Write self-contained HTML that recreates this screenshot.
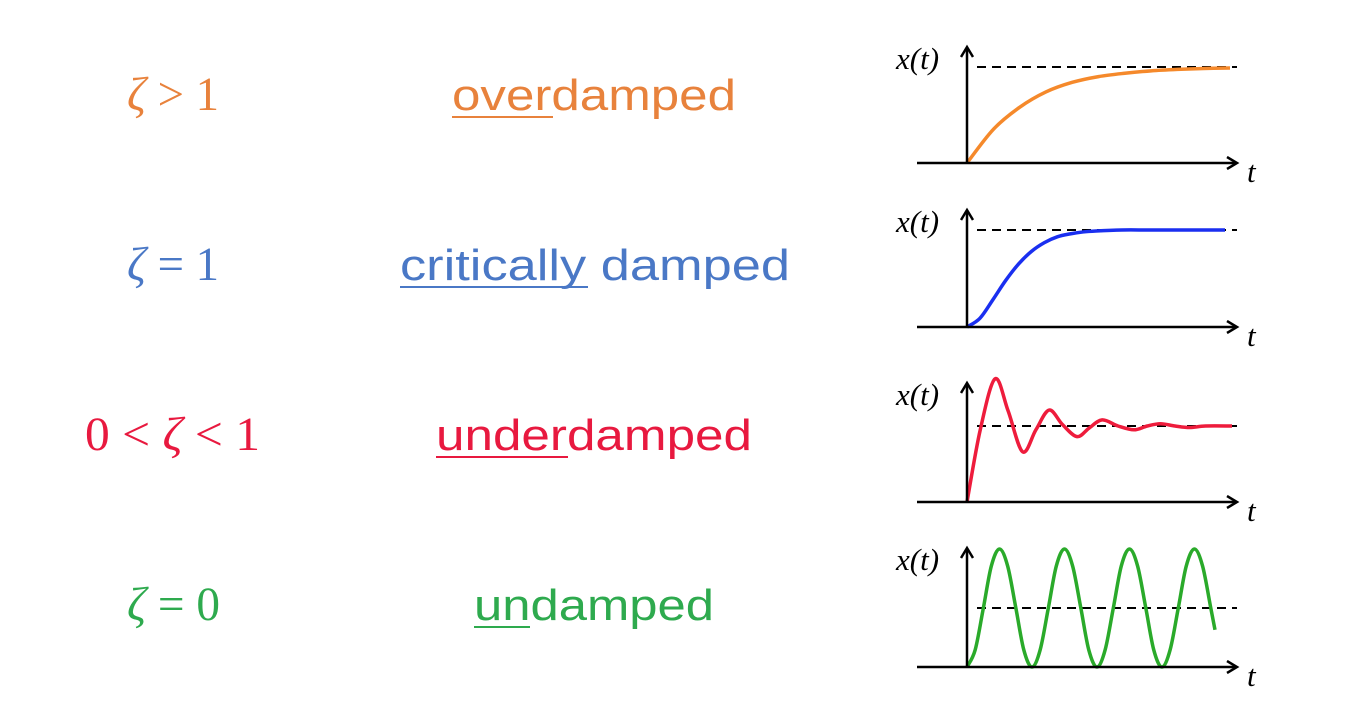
<!DOCTYPE html>
<html><head><meta charset="utf-8"><style>
html,body{margin:0;padding:0;background:#fff;width:1351px;height:705px;overflow:hidden}
svg{display:block}
.m{font-family:"Liberation Serif",serif;font-size:48px}
.w{font-family:"Liberation Sans","DejaVu Sans",sans-serif;font-size:44px}
.lab{font-family:"Liberation Serif",serif;font-style:italic;font-size:31px}
</style></head><body>
<svg id="svg" width="1351" height="705" viewBox="0 0 1351 705" xmlns="http://www.w3.org/2000/svg">
<defs><marker id="ah" markerWidth="14" markerHeight="14" refX="11" refY="7" orient="auto" markerUnits="userSpaceOnUse"><path d="M1,1 L11,7 L1,13" fill="none" stroke="#000" stroke-width="2.5"/></marker></defs>
<g><text class="m" x="127" y="110" fill="#e8823c" textLength="92" lengthAdjust="spacingAndGlyphs"><tspan font-style="italic">ζ</tspan> &gt; 1</text></g>
<g><text class="m" x="127" y="280" fill="#4a78c6" textLength="92" lengthAdjust="spacingAndGlyphs"><tspan font-style="italic">ζ</tspan> = 1</text></g>
<g><text class="m" x="85" y="450" fill="#e8193f" textLength="175" lengthAdjust="spacingAndGlyphs">0 &lt; <tspan font-style="italic">ζ</tspan> &lt; 1</text></g>
<g><text class="m" x="127" y="620" fill="#2eaa4e" textLength="93" lengthAdjust="spacingAndGlyphs"><tspan font-style="italic">ζ</tspan> = 0</text></g>

<g><text class="w" x="452" y="110" fill="#e8823c" textLength="284" lengthAdjust="spacingAndGlyphs">overdamped</text><line x1="452" y1="117" x2="553" y2="117" stroke="#e8823c" stroke-width="2"/></g>
<g><text class="w" x="400" y="280" fill="#4a78c6" textLength="390" lengthAdjust="spacingAndGlyphs">critically damped</text><line x1="400" y1="287" x2="588" y2="287" stroke="#4a78c6" stroke-width="2"/></g>
<g><text class="w" x="436" y="450" fill="#e8193f" textLength="316" lengthAdjust="spacingAndGlyphs">underdamped</text><line x1="436" y1="457" x2="568" y2="457" stroke="#e8193f" stroke-width="2"/></g>
<g><text class="w" x="474" y="620" fill="#2eaa4e" textLength="240" lengthAdjust="spacingAndGlyphs">undamped</text><line x1="474" y1="627" x2="530" y2="627" stroke="#2eaa4e" stroke-width="2"/></g>
<g id="plots"></g>
</svg>
<script>
// Each series: time samples (0..10) and response values (1 = steady-state level)
const overT = [0,1,2,3,4,5,6,7,8,9,10];
const overV = [0,0.35,0.58,0.74,0.84,0.90,0.935,0.96,0.975,0.985,0.99];
const critT = [0,0.5,1,1.5,2,2.5,3,3.5,4,4.5,5,6,7,8,9,10];
const critV = [0,0.09,0.28,0.48,0.65,0.78,0.87,0.93,0.96,0.98,0.99,1,1,1,1,1];
const underT = [0,0.5,1.06,1.55,2.1,2.6,3.1,3.6,4.15,4.6,5.1,5.7,6.3,6.8,7.3,7.85,8.4,9.0,10];
const underV = [0,0.95,1.62,1.2,0.66,0.95,1.21,1.02,0.86,0.97,1.08,1.0,0.95,1.0,1.03,1.0,0.98,1.0,1.0];
const undT = [0,0.33,0.66,0.98,1.31,1.64,1.97,2.29,2.62,2.95,3.28,3.6,3.93,4.26,4.59,4.91,5.24,5.57,5.9,6.22,6.55,6.88,7.21,7.53,7.86,8.19,8.52,8.84,9.17,9.5,9.83,10];
const undV = [0,0.29,1,1.71,2,1.71,1,0.29,0,0.29,1,1.71,2,1.71,1,0.29,0,0.29,1,1.71,2,1.71,1,0.29,0,0.29,1,1.71,2,1.71,1,0.63];

const panels = [
 {name:'overdamped',T:overT,V:overV,color:'#f5892b',base:163,top:47,ref:67,xEnd:1230},
 {name:'critically-damped',T:critT,V:critV,color:'#1a2ff0',base:327,top:210,ref:230,xEnd:1225},
 {name:'underdamped',T:underT,V:underV,color:'#ee1c3c',base:502,top:383,ref:426,xEnd:1232},
 {name:'undamped',T:undT,V:undV,color:'#2aaa2a',base:667,top:548,ref:608,xEnd:1215}
];
const NS='http://www.w3.org/2000/svg';
const g=document.getElementById('plots');
function mk(tag,attrs,parent){const e=document.createElementNS(NS,tag);for(const k in attrs)e.setAttribute(k,attrs[k]);(parent||g).appendChild(e);return e;}
panels.forEach(p=>{
  const x0=967;
  const xs=t=>x0+(p.xEnd-x0)*t/10;
  const ys=v=>p.base-(p.base-p.ref)*v;
  const grp=mk('g',{});
  
  
  const pre=mk('line',{x1:917,y1:p.base,x2:x0,y2:p.base,stroke:'#000','stroke-width':2,'stroke-dasharray':'8,5'},grp);
  
  
  const ref=mk('line',{x1:977,y1:p.ref,x2:1237,y2:p.ref,stroke:'#000','stroke-width':2,'stroke-dasharray':'9,6'},grp);
  
  
  const P=p.T.map((t,i)=>[xs(t),ys(p.V[i])]);
  let d='M'+P[0][0]+','+P[0][1];
  for(let i=0;i<P.length-1;i++){
    const a=P[Math.max(0,i-1)],b=P[i],c=P[i+1],e=P[Math.min(P.length-1,i+2)];
    d+=' C'+(b[0]+(c[0]-a[0])/6)+','+(b[1]+(c[1]-a[1])/6)+' '+(c[0]-(e[0]-b[0])/6)+','+(c[1]-(e[1]-b[1])/6)+' '+c[0]+','+c[1];
  }
  const curve=mk('path',{d:d,fill:'none',stroke:p.color,'stroke-width':3.5,'stroke-linejoin':'round'},grp);
  
  
  const xa=mk('line',{x1:917,y1:p.base,x2:1237,y2:p.base,stroke:'#000','stroke-width':2.5,'marker-end':'url(#ah)'},grp);
  
  
  const ya=mk('line',{x1:x0,y1:p.base,x2:x0,y2:p.top,stroke:'#000','stroke-width':2.5,'marker-end':'url(#ah)'},grp);
  
  
  const yl=mk('text',{x:896,y:p.top+22,'class':'lab'},grp);
  yl.textContent='x(t)';
  
  
  const xl=mk('text',{x:1247,y:p.base+19,'class':'lab'},grp);
  xl.textContent='t';
  
  
});
</script>
</body></html>
